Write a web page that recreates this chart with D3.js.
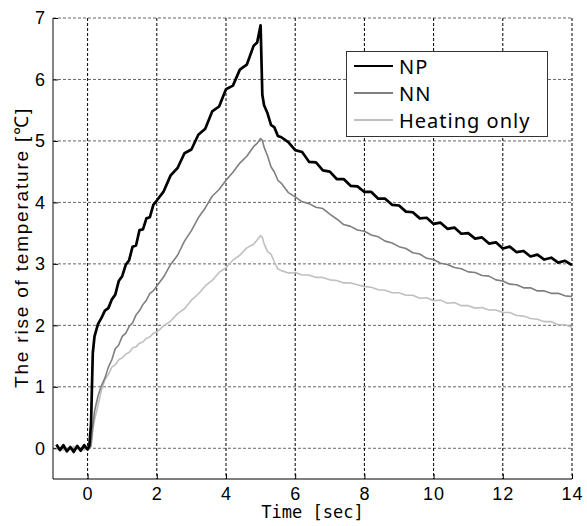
<!DOCTYPE html>
<html>
<head>
<meta charset="utf-8">
<script src="https://cdn.jsdelivr.net/npm/d3@7"></script>
<style>
  html, body { margin: 0; padding: 0; background: #fff; overflow: hidden; }
  svg { display: block; width: 100vw; height: 100vh; }
</style>
</head>
<body>
<div id="chart"></div>
<script>
// time axis shared by all three runs (sec)
var time = [
  -0.9, -0.8, -0.7, -0.6, -0.5, -0.4, -0.3, -0.2, -0.1, 0, 0.05, 0.1,
  0.15, 0.2, 0.3, 0.4, 0.5, 0.6, 0.7, 0.8, 0.9, 1.0, 1.1, 1.2, 1.3, 1.4, 1.5, 1.6, 1.7, 1.8, 1.9, 2.0,
  2.2, 2.4, 2.6, 2.8, 3.0, 3.2, 3.4, 3.6, 3.8, 4.0, 4.2, 4.4, 4.6, 4.8, 4.9, 5.0,
  5.05, 5.1, 5.2, 5.3, 5.4, 5.5, 5.6,
  5.8, 6.0, 6.2, 6.4, 6.6, 6.8, 7.0, 7.2, 7.4, 7.6, 7.8, 8.0, 8.2, 8.4, 8.6, 8.8,
  9.0, 9.2, 9.4, 9.6, 9.8, 10.0, 10.2, 10.4, 10.6, 10.8, 11.0, 11.2, 11.4, 11.6, 11.8,
  12.0, 12.2, 12.4, 12.6, 12.8, 13.0, 13.2, 13.4, 13.6, 13.8, 14.0
];

var npValues = [
  0.06, -0.03, 0.05, -0.05, 0.02, -0.06, 0.04, -0.04, 0.05, -0.02, 0.04, 0.4,
  1.55, 1.82, 2.02, 2.12, 2.24, 2.28, 2.42, 2.5, 2.72, 2.8, 2.98, 3.06, 3.28, 3.3, 3.55, 3.56, 3.74, 3.76, 3.96, 4.03,
  4.18, 4.44, 4.56, 4.8, 4.86, 5.1, 5.2, 5.48, 5.56, 5.84, 5.9, 6.16, 6.24, 6.55, 6.6, 6.88,
  5.75, 5.58, 5.45, 5.26, 5.22, 5.08, 5.06,
  4.98, 4.85, 4.82, 4.66, 4.65, 4.52, 4.5, 4.38, 4.38, 4.27, 4.26, 4.17, 4.17, 4.06, 4.06, 3.96,
  3.95, 3.85, 3.84, 3.74, 3.75, 3.65, 3.67, 3.57, 3.59, 3.49, 3.5, 3.41, 3.43, 3.33, 3.35,
  3.25, 3.28, 3.19, 3.21, 3.12, 3.15, 3.07, 3.1, 3.02, 3.05, 2.98
];

var nnValues = [
  0.03, -0.02, 0.02, -0.03, 0.01, -0.02, 0.03, -0.01, 0.02, -0.02, 0.0, 0.05,
  0.35, 0.6, 0.85, 1.02, 1.14, 1.32, 1.44, 1.62, 1.68, 1.82, 1.87, 1.98, 2.04, 2.17, 2.24, 2.34, 2.41, 2.52, 2.56, 2.64,
  2.79, 2.99, 3.14, 3.37, 3.54, 3.75, 3.91, 4.1, 4.21, 4.36, 4.49, 4.64, 4.75, 4.91, 4.96, 5.04,
  5.01, 4.9, 4.76, 4.58, 4.49, 4.36, 4.31,
  4.16, 4.09, 4.01, 3.98, 3.92, 3.9, 3.81, 3.73, 3.64, 3.61, 3.55, 3.53, 3.47, 3.44, 3.37, 3.34,
  3.28, 3.25, 3.18, 3.16, 3.09, 3.07, 3.01, 2.99, 2.94, 2.92, 2.87, 2.86, 2.81, 2.8, 2.74,
  2.72, 2.67, 2.66, 2.61, 2.61, 2.56, 2.56, 2.52, 2.52, 2.48, 2.47
];

var heatValues = [
  -0.02, 0.02, -0.03, 0.01, -0.02, 0.03, -0.02, 0.0, -0.03, 0.02, 0.0, 0.02,
  0.3, 0.46, 0.7, 0.94, 1.12, 1.2, 1.32, 1.36, 1.44, 1.47, 1.53, 1.56, 1.63, 1.65, 1.71, 1.73, 1.79, 1.81, 1.87, 1.89,
  1.99, 2.07, 2.19, 2.27, 2.41, 2.51, 2.64, 2.73, 2.86, 2.94, 3.06, 3.14, 3.26, 3.32, 3.39, 3.46,
  3.43, 3.33, 3.2, 3.16, 3.03, 2.92, 2.89,
  2.85, 2.86, 2.82, 2.82, 2.78, 2.78, 2.74, 2.73, 2.69, 2.69, 2.66, 2.63, 2.62, 2.58, 2.57, 2.53,
  2.53, 2.49, 2.49, 2.44, 2.45, 2.4, 2.41, 2.36, 2.37, 2.32, 2.32, 2.28, 2.29, 2.25, 2.25,
  2.21, 2.21, 2.16, 2.15, 2.11, 2.1, 2.06, 2.06, 2.01, 2.01, 1.97
];

var seriesNames = ['NP', 'NN', 'Heating only'];
var xTicks = [0, 2, 4, 6, 8, 10, 12, 14];
var yTicks = [0, 1, 2, 3, 4, 5, 6, 7];

var
  width = 587,
  height = 526,
  margin = { top: 18, right: 15, bottom: 47, left: 53 },
  innerWidth = width - margin.left - margin.right,
  innerHeight = height - margin.top - margin.bottom,
  sansFont = '"Liberation Sans", Arial, sans-serif';

var series = [
  { name: seriesNames[0], values: npValues, color: '#000000', stroke: 2.7 },
  { name: seriesNames[1], values: nnValues, color: '#7f7f7f', stroke: 1.6 },
  { name: seriesNames[2], values: heatValues, color: '#c0c0c0', stroke: 1.6 }
];

var xScale = d3.scaleLinear().domain([-1, 14]).range([0, innerWidth]);
var yScale = d3.scaleLinear().domain([-0.5, 7]).range([innerHeight, 0]);

// viewBox keeps the whole drawing inside the window
var svg = d3.select('#chart').append('svg')
  .attr('viewBox', '0 0 ' + width + ' ' + height)
  .attr('preserveAspectRatio', 'xMidYMid meet');

var g = svg.append('g')
  .attr('transform', translation(margin.left, margin.top));

// GRID
g.append('g').selectAll('line')
  .data(yTicks)
  .enter().append('line')
  .attr('x1', 0)
  .attr('x2', innerWidth)
  .attr('y1', function (d) { return yScale(d); })
  .attr('y2', function (d) { return yScale(d); })
  .attr('stroke', '#666')
  .attr('stroke-width', 1)
  .attr('stroke-dasharray', '3,2');

g.append('g').selectAll('line')
  .data(xTicks)
  .enter().append('line')
  .attr('x1', function (d) { return xScale(d); })
  .attr('x2', function (d) { return xScale(d); })
  .attr('y1', 0)
  .attr('y2', innerHeight)
  .attr('stroke', '#000')
  .attr('stroke-width', 1)
  .attr('stroke-dasharray', '3,2');

// AXES
var xAxis = d3.axisBottom(xScale)
  .tickValues(xTicks)
  .tickSize(-5)
  .tickPadding(8)
  .tickFormat(d3.format('d'));

var yAxis = d3.axisLeft(yScale)
  .tickValues(yTicks)
  .tickSize(-5)
  .tickPadding(7)
  .tickFormat(d3.format('d'));

var gx = g.append('g')
  .attr('transform', translation(0, innerHeight))
  .call(xAxis);
gx.select('.domain').remove();

var gy = g.append('g').call(yAxis);
gy.select('.domain').remove();

g.selectAll('.tick text')
  .attr('font-family', sansFont)
  .attr('font-size', 18)
  .attr('letter-spacing', 1)
  .attr('fill', '#000');

g.append('line')
  .attr('x1', 0).attr('x2', 0)
  .attr('y1', 0).attr('y2', innerHeight)
  .attr('stroke', '#333').attr('stroke-width', 1.2);
g.append('line')
  .attr('x1', 0).attr('x2', innerWidth)
  .attr('y1', innerHeight).attr('y2', innerHeight)
  .attr('stroke', '#000').attr('stroke-width', 1.2);

// LINES (draw lighter ones first)
var line = d3.line()
  .x(function (d, i) { return xScale(time[i]); })
  .y(function (d) { return yScale(d); });

g.append('g').selectAll('path')
  .data(series.slice().reverse())
  .enter().append('path')
  .attr('fill', 'none')
  .attr('stroke', function (d) { return d.color; })
  .attr('stroke-width', function (d) { return d.stroke; })
  .attr('stroke-linejoin', 'round')
  .attr('d', function (d) { return line(d.values); });

// LEGEND
var legend = svg.append('g')
  .attr('transform', translation(346, 51));

legend.append('rect')
  .attr('x', 0.5).attr('y', 0.5)
  .attr('width', 201).attr('height', 85)
  .attr('fill', '#fff')
  .attr('stroke', '#333')
  .attr('stroke-width', 1);

var rows = legend.selectAll('.row')
  .data(series)
  .enter().append('g')
  .attr('class', 'row')
  .attr('transform', function (d, i) { return translation(0, 15 + i * 27); });

rows.append('line')
  .attr('x1', 8).attr('x2', 47)
  .attr('stroke', function (d) { return d.color; })
  .attr('stroke-width', 2);

rows.append('text')
  .attr('x', 53)
  .attr('y', 7.5)
  .attr('font-family', '"Noto Sans", sans-serif')
  .attr('font-size', 20)
  .attr('letter-spacing', 1)
  .text(function (d) { return d.name; });

// AXIS LABELS
svg.append('text')
  .attr('x', margin.left + innerWidth / 2)
  .attr('y', 518)
  .attr('text-anchor', 'middle')
  .attr('font-family', '"DejaVu Sans Mono", monospace')
  .attr('font-size', 17)
  .text('Time [sec]');

svg.append('text')
  .attr('transform', translation(28, margin.top + innerHeight / 2 - 1) + 'rotate(-90)')
  .attr('text-anchor', 'middle')
  .attr('font-family', sansFont)
  .attr('font-size', 19)
  .attr('letter-spacing', 1.8)
  .text('The rise of temperature [℃]');

function translation(x, y) {
  return 'translate(' + x + ',' + y + ')';
}
</script>
</body>
</html>
